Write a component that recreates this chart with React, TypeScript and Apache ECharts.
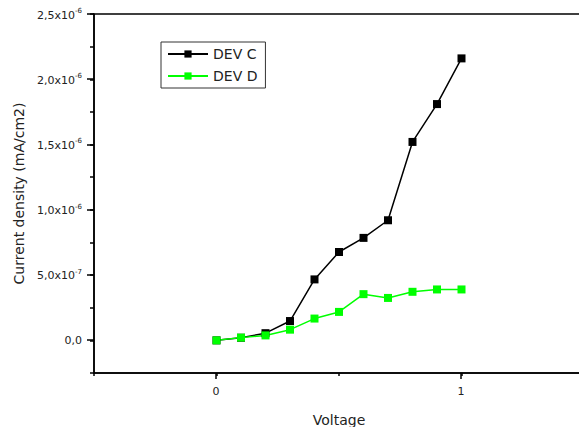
import React, { useEffect, useRef } from 'react';
import * as echarts from 'echarts';

const voltage = [0, 0.1, 0.2, 0.3, 0.4, 0.5, 0.6, 0.7, 0.8, 0.9, 1.0];
const devC = [0, 2.0e-8, 5.5e-8, 1.48e-7, 4.67e-7, 6.77e-7, 7.85e-7, 9.2e-7, 1.52e-6, 1.81e-6, 2.16e-6];
const devD = [0, 2.1e-8, 3.8e-8, 8.2e-8, 1.67e-7, 2.18e-7, 3.54e-7, 3.25e-7, 3.72e-7, 3.9e-7, 3.9e-7];
const seriesNames = ['DEV C', 'DEV D'];
const xTickLabels = ['0', '1'];
const yTickMantissa = ['0,0', '5,0x10', '1,0x10', '1,5x10', '2,0x10', '2,5x10'];
const yTickExponent = ['', '-7', '-6', '-6', '-6', '-6'];
const Y_UNIT = 1e-7;

export default function App() {
  const ref = useRef<HTMLDivElement>(null);
  useEffect(() => {
    const chart = echarts.init(ref.current as HTMLDivElement, null, { renderer: 'svg' });
    const font = 'DejaVu Sans';
    const txt = '#222';
    const toPts = (arr: number[]) => voltage.map((v, i) => [v, arr[i] / Y_UNIT]);
    const axisLineStyle = { color: '#000', width: 1.5 };
    const gridBase = { containLabel: false, outerBoundsMode: 'none' };
    chart.setOption({
      animation: false,
      textStyle: { fontFamily: font },
      grid: [
        { ...gridBase, left: 94, top: 14, width: 490, bottom: 54, show: true, borderColor: '#000', borderWidth: 1.5 },
        { ...gridBase, left: 94, top: 14, width: 490, bottom: 87, show: false },
        { ...gridBase, left: 216, top: 14, width: 245, bottom: 54, show: false },
      ],
      legend: {
        orient: 'vertical',
        left: 161,
        top: 42,
        data: seriesNames,
        borderColor: '#333',
        borderWidth: 1,
        borderRadius: 0,
        padding: [5, 8, 5, 6],
        itemWidth: 40,
        itemHeight: 9,
        itemGap: 8,
        textStyle: { fontFamily: font, fontSize: 14, color: txt },
      },
      xAxis: [
        {
          gridIndex: 0, type: 'value', min: -0.5, max: 1.5, interval: 0.5,
          axisLine: { show: true, onZero: false, lineStyle: axisLineStyle },
          axisTick: { show: true, length: 3, lineStyle: axisLineStyle },
          axisLabel: { show: false }, splitLine: { show: false },
          name: 'Voltage', nameLocation: 'middle', nameGap: 40,
          nameTextStyle: { fontFamily: font, fontSize: 14, color: txt },
        },
        { gridIndex: 1, type: 'value', min: 0, max: 1, show: false },
        {
          gridIndex: 2, type: 'value', min: 0, max: 1, interval: 1,
          axisLine: { show: false },
          axisTick: { show: true, length: 6, lineStyle: axisLineStyle },
          axisLabel: {
            show: true, margin: 13, fontFamily: font, fontSize: 11, color: txt,
            formatter: (v: number) => xTickLabels[Math.round(v)] ?? '',
          },
          splitLine: { show: false },
        },
      ],
      yAxis: [
        {
          gridIndex: 0, type: 'value', min: -2.5, max: 25, interval: 2.5,
          axisLine: { show: true, onZero: false, lineStyle: axisLineStyle },
          axisTick: { show: true, length: 4, lineStyle: axisLineStyle },
          axisLabel: { show: false }, splitLine: { show: false },
          name: 'Current density (mA/cm2)', nameLocation: 'middle', nameGap: 68,
          nameTextStyle: { fontFamily: font, fontSize: 14, color: txt },
        },
        {
          gridIndex: 1, type: 'value', min: 0, max: 25, interval: 5,
          axisLine: { show: false },
          axisTick: { show: true, length: 7, lineStyle: axisLineStyle },
          axisLabel: {
            show: true, margin: 12,
            formatter: (v: number) => {
              const i = Math.round(v / 5);
              const e = yTickExponent[i];
              return e ? `{m|${yTickMantissa[i]}}{s|${e}}` : `{m|${yTickMantissa[i]}}`;
            },
            rich: {
              m: { fontFamily: font, fontSize: 11, color: txt, verticalAlign: 'bottom' },
              s: { fontFamily: font, fontSize: 7, color: txt, verticalAlign: 'bottom', padding: [0, 0, 6, 0] },
            },
          },
          splitLine: { show: false },
        },
        { gridIndex: 2, type: 'value', min: 0, max: 1, show: false },
      ],
      series: [
        {
          name: seriesNames[0], type: 'line', xAxisIndex: 0, yAxisIndex: 0,
          data: toPts(devC), symbol: 'rect', symbolSize: 8,
          itemStyle: { color: '#000' }, lineStyle: { color: '#000', width: 1.5 },
        },
        {
          name: seriesNames[1], type: 'line', xAxisIndex: 0, yAxisIndex: 0,
          data: toPts(devD), symbol: 'rect', symbolSize: 8,
          itemStyle: { color: '#00ff00' }, lineStyle: { color: '#00ff00', width: 1.5 },
        },
      ],
    });
    return () => chart.dispose();
  }, []);
  return <div ref={ref} style={{ position: 'fixed', left: 0, top: 0, width: 579, height: 427, background: '#fff' }} />;
}
